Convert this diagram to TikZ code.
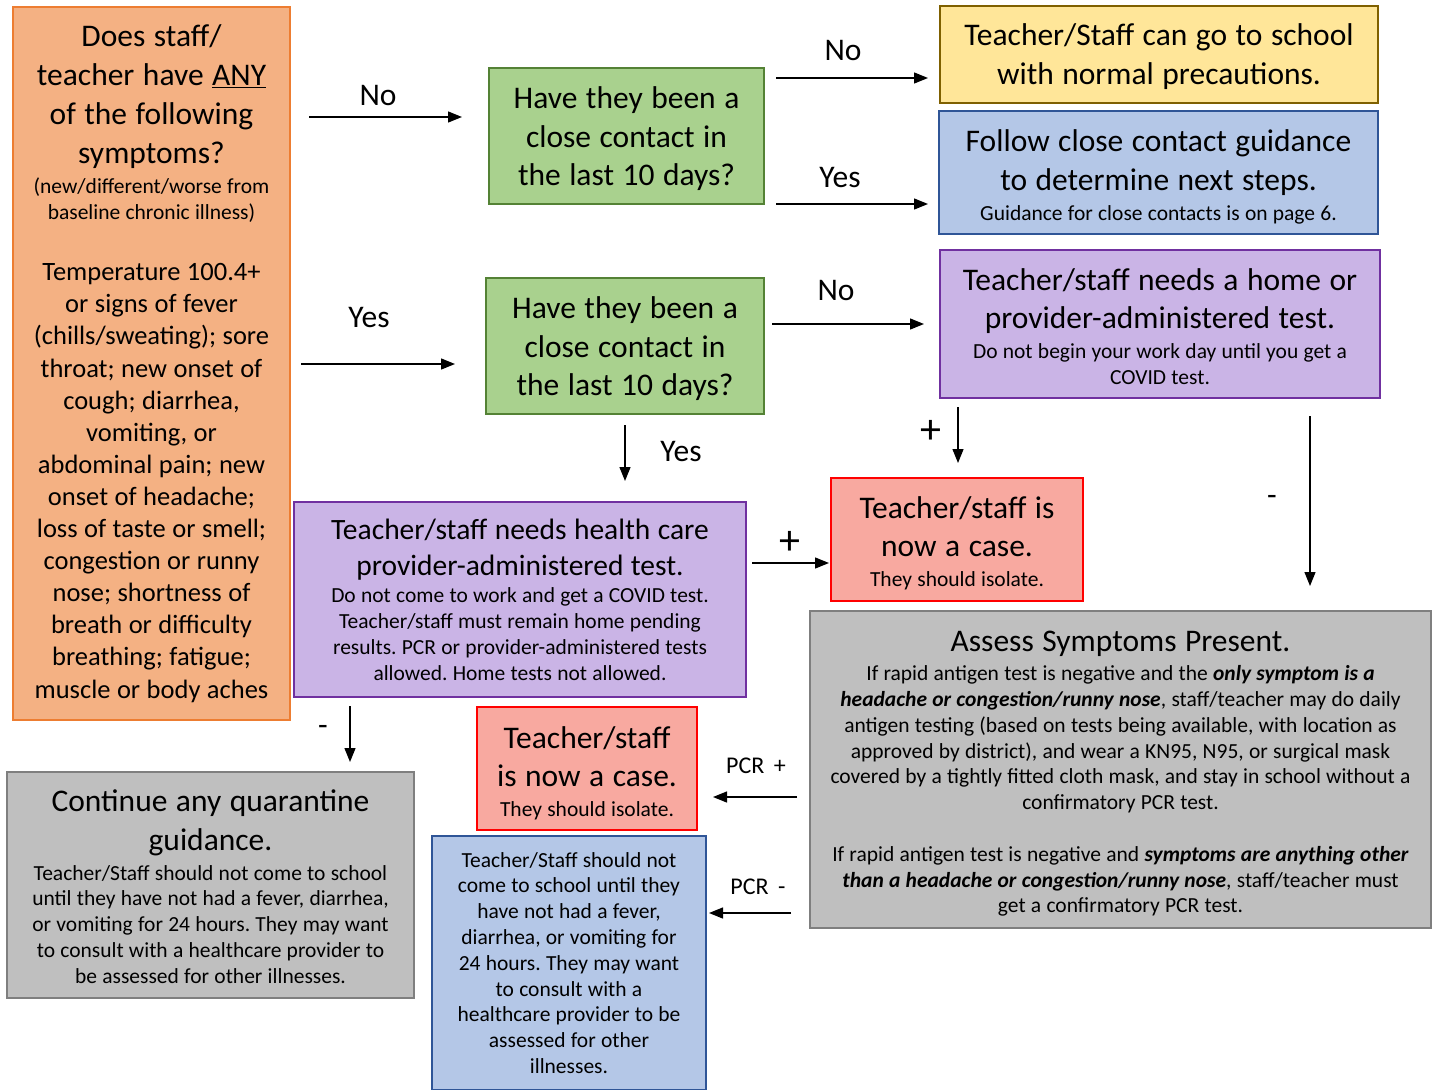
\documentclass[tikz,border=0pt]{standalone}
\usepackage{fontspec}
\setmainfont{Carlito}
\usetikzlibrary{arrows.meta}

% box colours
\definecolor{orFill}{HTML}{F4B183}\definecolor{orLine}{HTML}{ED7D31}
\definecolor{grFill}{HTML}{A9D18E}\definecolor{grLine}{HTML}{548235}
\definecolor{ylFill}{HTML}{FFE699}\definecolor{ylLine}{HTML}{7F6000}
\definecolor{blFill}{HTML}{B4C7E7}\definecolor{blLine}{HTML}{2F5597}
\definecolor{puFill}{HTML}{CAB4E6}\definecolor{puLine}{HTML}{7030A0}
\definecolor{rdFill}{HTML}{F8A9A0}\definecolor{rdLine}{HTML}{FF0000}
\definecolor{gyFill}{HTML}{BFBFBF}\definecolor{gyLine}{HTML}{7F7F7F}

% type sizes, with the wide word spacing of the slide text
\newcommand{\wsp}[1]{\spaceskip=#1em\relax\xspaceskip=#1em\relax}
\newcommand{\fsT}{\fontsize{31.5}{38.5}\selectfont\wsp{0.27}}
\newcommand{\fsTo}{\fontsize{31.5}{39}\selectfont\wsp{0.27}}
\newcommand{\fsTp}{\fontsize{29.5}{36}\selectfont\wsp{0.25}}
\newcommand{\fsS}{\fontsize{21.5}{25.8}\selectfont\wsp{0.245}}
\newcommand{\fsL}{\fontsize{26.5}{32.1}\selectfont\wsp{0.245}}
\newcommand{\fsR}{\fontsize{24}{28}\selectfont\wsp{0.4}}
\newcommand{\fsP}{\fontsize{42}{44}\selectfont}
\newcommand{\bi}[1]{\textbf{\textit{#1}}}
\newcommand{\tstrut}[1]{\rule{0pt}{#1em}}

\begin{document}
\begin{tikzpicture}[x=1pt,y=-1pt,
  box/.style={draw, line width=2pt, inner sep=0pt, outer sep=0pt, align=center},
  arr/.style={draw, line width=1.3pt, -{Triangle[length=14pt,width=11pt]}},
  lbl/.style={inner sep=0pt, font=\fsT},
  lblp/.style={inner sep=0pt, font=\fsP},
  lbls/.style={inner sep=0pt, font=\fsR}]

\fill[white] (0,0) rectangle (1434,1089);
\useasboundingbox (0,0) rectangle (1434,1089);

% symptom question
\node[box, fill=orFill, draw=orLine, minimum width=277, minimum height=713, text width=270]
  (sym) at (151.5,363.5) {%
  \fsTo Does staff/\\teacher have \underline{ANY}\\of the following\\symptoms?\par
  \vspace{4pt}\fsS (new/different/worse from\\baseline chronic illness)\par
  \vspace{29.5pt}\fsL Temperature 100.4+\\or signs of fever\\(chills/sweating); sore\\throat; new onset of\\cough; diarrhea,\\vomiting, or\\abdominal pain; new\\onset of headache;\\loss of taste or smell;\\congestion or runny\\nose; shortness of\\breath or difficulty\\breathing; fatigue;\\muscle or body aches\par};

% close contact questions
\node[box, fill=grFill, draw=grLine, minimum width=275, minimum height=136, text width=268]
  (green1) at (626.5,136) {\fsT\tstrut{0.88}Have they been a\\close contact in\\the last 10 days?\par};
\node[box, fill=grFill, draw=grLine, minimum width=278, minimum height=136, text width=270]
  (green2) at (625,346) {\fsT\tstrut{0.88}Have they been a\\close contact in\\the last 10 days?\par};

% outcomes, no symptoms
\node[box, fill=ylFill, draw=ylLine, minimum width=438, minimum height=97, text width=430]
  (yellow) at (1159,54.5) {\fsT\tstrut{0.82}Teacher/Staff can go to school\\with normal precautions.\par};
\node[box, fill=blFill, draw=blLine, minimum width=439, minimum height=123, text width=430]
  (blue1) at (1158.5,172.5) {\fsT\tstrut{0.98}Follow close contact guidance\\to determine next steps.\par
  \vspace{4.5pt}\fsS Guidance for close contacts is on page 6.\par};

% testing with symptoms
\node[box, fill=puFill, draw=puLine, minimum width=440, minimum height=148, text width=432]
  (purple1) at (1160,324) {\fsT\tstrut{0.85}Teacher/staff needs a home or\\provider-administered test.\par
  \vspace{4pt}\fsS Do not begin your work day until you get a\\COVID test.\par};
\node[box, fill=rdFill, draw=rdLine, minimum width=252, minimum height=123, text width=245]
  (red1) at (957,539.5) {\fsT\tstrut{0.92}Teacher/staff is\\now a case.\par
  \vspace{4pt}\fsS They should isolate.\par};
\node[box, fill=puFill, draw=puLine, minimum width=452, minimum height=195, text width=445]
  (purple2) at (520,599.5) {\fsTp Teacher/staff needs health care\\provider-administered test.\par
  \vspace{2pt}\fsS Do not come to work and get a COVID test.\\Teacher/staff must remain home pending\\results. PCR or provider-administered tests\\allowed. Home tests not allowed.\par};

% assessment after a negative rapid test
\node[box, fill=gyFill, draw=gyLine, minimum width=621, minimum height=317, text width=616]
  (gray1) at (1120.5,769.5) {\fsT\tstrut{0.92}Assess Symptoms Present.\par
  \vspace{3.5pt}\fsS If rapid antigen test is negative and the \bi{only symptom is a}\\
  \bi{headache or congestion/runny nose}, staff/teacher may do daily\\
  antigen testing (based on tests being available, with location as\\
  approved by district), and wear a KN95, N95, or surgical mask\\
  covered by a tightly fitted cloth mask, and stay in school without a\\
  confirmatory PCR test.\par
  \vspace{25.8pt}If rapid antigen test is negative and \bi{symptoms are anything other}\\
  \bi{than a headache or congestion/runny nose}, staff/teacher must\\
  get a confirmatory PCR test.\par};

% PCR results
\node[box, fill=rdFill, draw=rdLine, minimum width=220, minimum height=123, text width=214]
  (red2) at (587,768.5) {\fsT\tstrut{0.98}Teacher/staff\\is now a case.\par
  \vspace{4pt}\fsS They should isolate.\par};
\node[box, fill=blFill, draw=blLine, minimum width=274, minimum height=254, text width=266]
  (blue2) at (569,963) {\fsS Teacher/Staff should not\\come to school until they\\have not had a fever,\\diarrhea, or vomiting for\\24 hours. They may want\\to consult with a\\healthcare provider to be\\assessed for other\\illnesses.\par};

% negative provider test
\node[box, fill=gyFill, draw=gyLine, minimum width=407, minimum height=226, text width=400]
  (gray2) at (210.5,885) {\fsT\tstrut{0.8}Continue any quarantine\\guidance.\par
  \vspace{4pt}\fsS Teacher/Staff should not come to school\\until they have not had a fever, diarrhea,\\or vomiting for 24 hours. They may want\\to consult with a healthcare provider to\\be assessed for other illnesses.\par};

% connectors
\draw[arr] ([xshift=19pt,yshift=19pt]sym.east |- green1.west) -- ([xshift=-27pt,yshift=19pt]green1.west);
\draw[arr] ([xshift=11pt,yshift=-18pt]sym.east |- green2.west) -- ([xshift=-31pt,yshift=-18pt]green2.west);
\draw[arr] ([xshift=12pt,yshift=-23.5pt]green1.east |- yellow.west) -- ([xshift=-12pt,yshift=-23.5pt]yellow.west);
\draw[arr] ([xshift=12pt,yshift=-31.5pt]green1.east |- blue1.west) -- ([xshift=-11pt,yshift=-31.5pt]blue1.west);
\draw[arr] ([xshift=8pt]green2.east |- purple1.west) -- ([xshift=-16pt]purple1.west);
\draw[arr] ([yshift=-11pt]green2.south) -- ([yshift=21pt]green2.south |- purple2.north);
\draw[arr] ([xshift=1pt,yshift=-9pt]red1.north |- purple1.south) -- ([xshift=1pt,yshift=15pt]red1.north);
\draw[arr] ([xshift=150pt,yshift=-18pt]purple1.south) -- ([xshift=150pt,yshift=25pt]purple1.south |- gray1.north);
\draw[arr] ([xshift=6pt,yshift=-23.5pt]purple2.east |- red1.west) -- ([xshift=-2pt,yshift=-23.5pt]red1.west);
\draw[arr] ([xshift=139.5pt,yshift=-9pt]gray2.north |- purple2.south) -- ([xshift=139.5pt,yshift=10pt]gray2.north);
\draw[arr] ([xshift=-13pt,yshift=-27.5pt]gray1.west) -- ([xshift=16pt,yshift=-27.5pt]red2.east |- gray1.west);
\draw[arr] ([xshift=-19pt,yshift=-143.5pt]gray1.west) -- ([xshift=3pt,yshift=-143.5pt]blue2.east |- gray1.west);

% connector labels
\node[lbl] (lNo1) at (378,96) {No};
\node[lbl] (lYes1) at (369,318) {Yes};
\node[lbl] (lNo2) at (843,51) {No};
\node[lbl] (lYes2) at (840,178) {Yes};
\node[lbl] (lNo3) at (836,290) {No};
\node[lbl] (lYes3) at (681,452) {Yes};
\node[lblp] (lPlus1) at (931,432) {+};
\node[lbl] (lMinus1) at (1272,500) {-};
\node[lblp] (lPlus2) at (790,543) {+};
\node[lbl] (lMinus2) at (323,730) {-};
\node[lbls] (lPcrP) at (756,766) {PCR +};
\node[lbls] (lPcrM) at (758,887) {PCR -};
\end{tikzpicture}
\end{document}
